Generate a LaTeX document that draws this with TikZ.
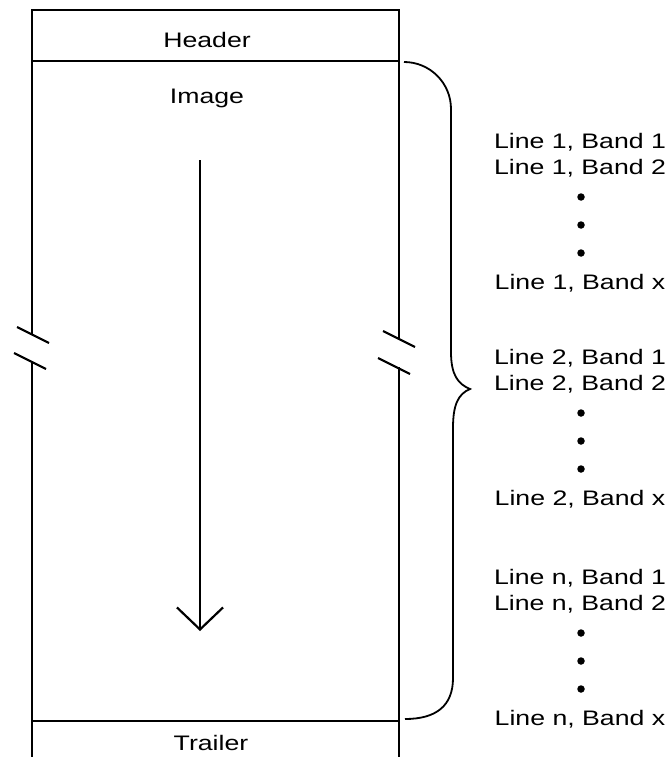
\documentclass[tikz,border=0pt]{standalone}
\usepackage{fontspec}
\setmainfont[FakeStretch=1.27]{Liberation Sans}
\usetikzlibrary{arrows.meta}

\begin{document}
\begin{tikzpicture}[x=1pt,y=-1pt,
  every node/.style={inner sep=0pt,font=\fontsize{21}{24}\selectfont},
  edge/.style={line width=2.2pt},
  brk/.style={line width=2.2pt},
  dot/.style={circle,fill=black,minimum size=7.5pt}]
\useasboundingbox (0,0) rectangle (669,757);
% frame of the file
\coordinate (tl) at (32,10);
\coordinate (tr) at (399,10);
\coordinate (hl) at (32,61);
\coordinate (hr) at (399,61);
\coordinate (trl) at (32,721);
\coordinate (trr) at (399,721);
\coordinate (bl) at (32,757);
\coordinate (br) at (399,757);
\coordinate (lbrkA) at (32,334);
\coordinate (lbrkB) at (32,362);
\coordinate (rbrkA) at (399,339);
\coordinate (rbrkB) at (399,367);
\draw [edge] (lbrkA) -- (tl) -- (tr) -- (rbrkA);
\draw [edge] (lbrkB) -- (bl);
\draw [edge] (rbrkB) -- (br);
\draw [edge] (hl) -- (hr);
\draw [edge] (trl) -- (trr);
\draw [brk] (17,327) -- (49,343);
\draw [brk] (14,353) -- (46,369);
\draw [brk] (383,331) -- (415,347);
\draw [brk] (378,358) -- (410,374);
\node (header) at (207,40) {Header};
\node (image) at (207,98) {Image};
\node (trailer) at (211,743) {Trailer};
% scan direction
\coordinate (scanA) at (200,160);
\coordinate (scanB) at (200,631);
\draw [edge,-{Straight Barb[length=22pt,width=46pt,line width=2.2pt]}] (scanA) -- (scanB);
% brace
\coordinate (brA) at (404,62);
\coordinate (brTip) at (470,389);
\coordinate (brB) at (405,719);
\draw [line width=1.8pt] (brA) .. controls (430,62) and (451,83) .. (451,109)
  -- (451,352) .. controls (451,375) and (458,384) .. (brTip)
  .. controls (458,394) and (453,405) .. (453,428)
  -- (453,678) .. controls (453,706) and (436,719) .. (brB);
% lines and bands
\foreach \k/\y in {1/142,2/358,n/578}{
  \node (l\k b1) at (580,\y) {Line \k, Band 1};
  \node (l\k b2) at (580,\y+26) {Line \k, Band 2};
  \node [dot] (l\k d1) at (581,\y+55) {};
  \node [dot] (l\k d2) at (581,\y+83) {};
  \node [dot] (l\k d3) at (581,\y+111) {};
  \node (l\k bx) at (580,\y+141) {Line \k, Band x};
}
\end{tikzpicture}
\end{document}
